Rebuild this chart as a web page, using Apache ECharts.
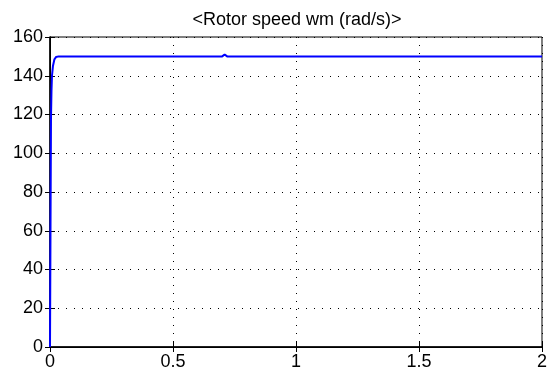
<!DOCTYPE html>
<html>
<head>
<meta charset="utf-8">
<script src="https://cdn.jsdelivr.net/npm/echarts@6/dist/echarts.min.js"></script>
<style>
  html, body { margin: 0; padding: 0; background: #fff; }
  #chart { width: 550px; height: 378px; }
</style>
</head>
<body>
<div id="chart"></div>
<script>
const chartTitle = '<Rotor speed wm (rad/s)>';

// time (s) and rotor speed (rad/s)
const times = [0, 0.002, 0.004, 0.006, 0.008, 0.012, 0.018, 0.025, 0.035, 0.7, 0.705, 0.71, 0.715, 0.72, 1.3, 1.305, 1.31, 2];
const speeds = [0, 60, 118, 132, 140, 145, 148.5, 149.7, 150, 150, 149, 151, 150.5, 150, 150, 150.8, 150, 150];

const xTicks = [0, 0.5, 1, 1.5, 2];
const yTicks = [0, 20, 40, 60, 80, 100, 120, 140, 160];

const font = 'Liberation Sans';
let chart = echarts.init(document.getElementById('chart'));

let tickStyle = { show: true, inside: true, length: 5, lineStyle: { color: '#000', width: 1 } };
let gridLine = { show: true, lineStyle: { color: '#000', type: [1, 7], width: 1 } };

let option = {
    animation: false,
    title: {
        text: chartTitle,
        left: 292,
        textAlign: 'center',
        top: 6,
        textStyle: { fontFamily: font, fontSize: 18, fontWeight: 'normal', color: '#000' }
    },
    grid: { left: 50, right: 6, top: 37, bottom: 31, show: true, borderColor: '#000', borderWidth: 1 },
    xAxis: [
        {
            type: 'value', min: 0, max: 2, interval: 0.5,
            axisLine: { show: true, lineStyle: { color: '#000', width: 1.5 } },
            axisTick: tickStyle,
            splitLine: gridLine,
            axisLabel: { color: '#000', fontFamily: font, fontSize: 18, margin: 6,
                formatter: v => String(v) }
        },
        {
            type: 'value', position: 'top', min: 0, max: 2, interval: 0.5,
            axisLine: { show: true, lineStyle: { color: '#000', width: 1 } },
            axisTick: tickStyle, splitLine: { show: false }, axisLabel: { show: false }
        }
    ],
    yAxis: [
        {
            type: 'value', min: 0, max: 160, interval: 20,
            axisLine: { show: true, lineStyle: { color: '#000', width: 1.5 } },
            axisTick: tickStyle,
            splitLine: gridLine,
            axisLabel: { color: '#000', fontFamily: font, fontSize: 18, margin: 7 }
        },
        {
            type: 'value', position: 'right', min: 0, max: 160, interval: 20,
            axisLine: { show: true, lineStyle: { color: '#000', width: 1 } },
            axisTick: tickStyle, splitLine: { show: false }, axisLabel: { show: false }
        }
    ],
    series: [
        {
            type: 'line',
            xAxisIndex: 0,
            yAxisIndex: 0,
            showSymbol: false,
            lineStyle: { color: '#0000ff', width: 2 },
            data: times.map((t, i) => [t, speeds[i]])
        }
    ]
};

option && chart.setOption(option);
</script>
</body>
</html>
